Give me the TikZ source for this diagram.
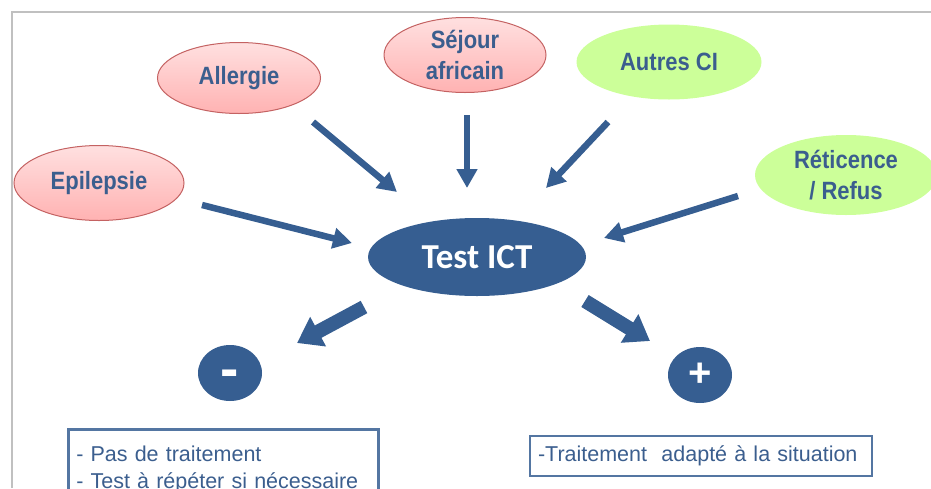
\documentclass[tikz,border=0pt]{standalone}
\usepackage{fontspec}
\setmainfont{Liberation Sans}
\newfontfamily\calibri{Carlito}
\newfontfamily\narrowsans{Liberation Sans}[FakeStretch=0.88]
\usepackage{tikz}
\usetikzlibrary{
  arrows.meta,
  positioning,
  shapes.geometric
}
\definecolor{ictblue}{RGB}{54,94,145}
\definecolor{labelblue}{RGB}{59,94,142}
\definecolor{pinktop}{RGB}{255,224,224}
\definecolor{pinkbot}{RGB}{255,178,178}
\definecolor{pinkline}{RGB}{196,98,98}
\definecolor{limefill}{RGB}{204,255,153}
\definecolor{framegray}{RGB}{192,192,192}

\begin{document}
\begin{tikzpicture}[x=1pt, y=-1pt,
  cause/.style={ellipse, inner sep=0pt, align=center, text=labelblue,
                font=\narrowsans\fontsize{25}{31}\selectfont\bfseries},
  pinkcause/.style={cause, draw=pinkline, line width=1pt,
                    top color=pinktop, bottom color=pinkbot},
  greencause/.style={cause, fill=limefill},
  arr/.style={-{Triangle[length=19pt, width=20pt]}, line width=6.5pt, draw=ictblue},
  bigarr/.style={-{Triangle[length=24pt, width=32pt]}, line width=14pt, draw=ictblue},
  result/.style={ellipse, fill=ictblue, text=white, inner sep=0pt,
                 minimum width=64pt, minimum height=56pt,
                 font=\fontsize{40}{40}\selectfont\bfseries},
  outbox/.style={draw=ictblue!85, line width=2.5pt, text=labelblue, align=left,
                 inner xsep=8pt, font=\fontsize{21.5}{26.5}\selectfont}
]
\useasboundingbox (0,0) rectangle (931,488);
\draw[framegray, line width=2pt] (12,488) -- (12,12) -- (931,12);

% causes
\node[pinkcause, minimum width=170pt, minimum height=75pt] (epi) at (99,183) {Epilepsie};
\node[pinkcause, minimum width=163pt, minimum height=71pt] (all) at (239,78) {Allergie};
\node[pinkcause, minimum width=162pt, minimum height=75pt] (sej) at (465,55) {Séjour\\africain};
\node[greencause, minimum width=185pt, minimum height=75pt] (aut) at (669,62) {Autres CI};
\node[greencause, minimum width=182pt, minimum height=80pt] (ret) at (846,175) {Réticence\\/ Refus};

% test
\node[ellipse, fill=ictblue, text=white, inner sep=0pt,
      minimum width=218pt, minimum height=78pt,
      font=\calibri\fontsize{35}{35}\selectfont\bfseries] (ict) at (477,257) {Test ICT};

\draw[arr] ([shift={(103,22)}]epi.center) -- ([shift={(-125,-14)}]ict.center);
\draw[arr] ([shift={(74,44)}]all.center) -- ([shift={(-80,-65)}]ict.center);
\draw[arr] ([shift={(2,60)}]sej.center) -- ([shift={(-10,-69)}]ict.center);
\draw[arr] ([shift={(-61,60)}]aut.center) -- ([shift={(69,-69)}]ict.center);
\draw[arr] ([shift={(-108,21)}]ret.center) -- ([shift={(127,-19)}]ict.center);

% results
\node[result, font=\fontsize{55}{55}\selectfont\bfseries, text height=28pt,
      text depth=0pt] (minus) at (230,373) {-};
\node[result] (plus) at (700,375) {+};
\draw[bigarr] ([shift={(-113,50)}]ict.center) -- ([shift={(67,-30)}]minus.center);
\draw[bigarr] ([shift={(108,44)}]ict.center) -- ([shift={(-50,-34)}]plus.center);

\node[outbox, anchor=north west, text width=294pt, minimum height=80pt,
      inner ysep=6pt] (neg) at (67,428)
  {- Pas de traitement\\- Test à répéter si nécessaire};
\node[outbox, text width=326pt, minimum height=40pt] (pos) at (701,456)
  {-Traitement\ \ adapté à la situation};
\end{tikzpicture}
\end{document}
